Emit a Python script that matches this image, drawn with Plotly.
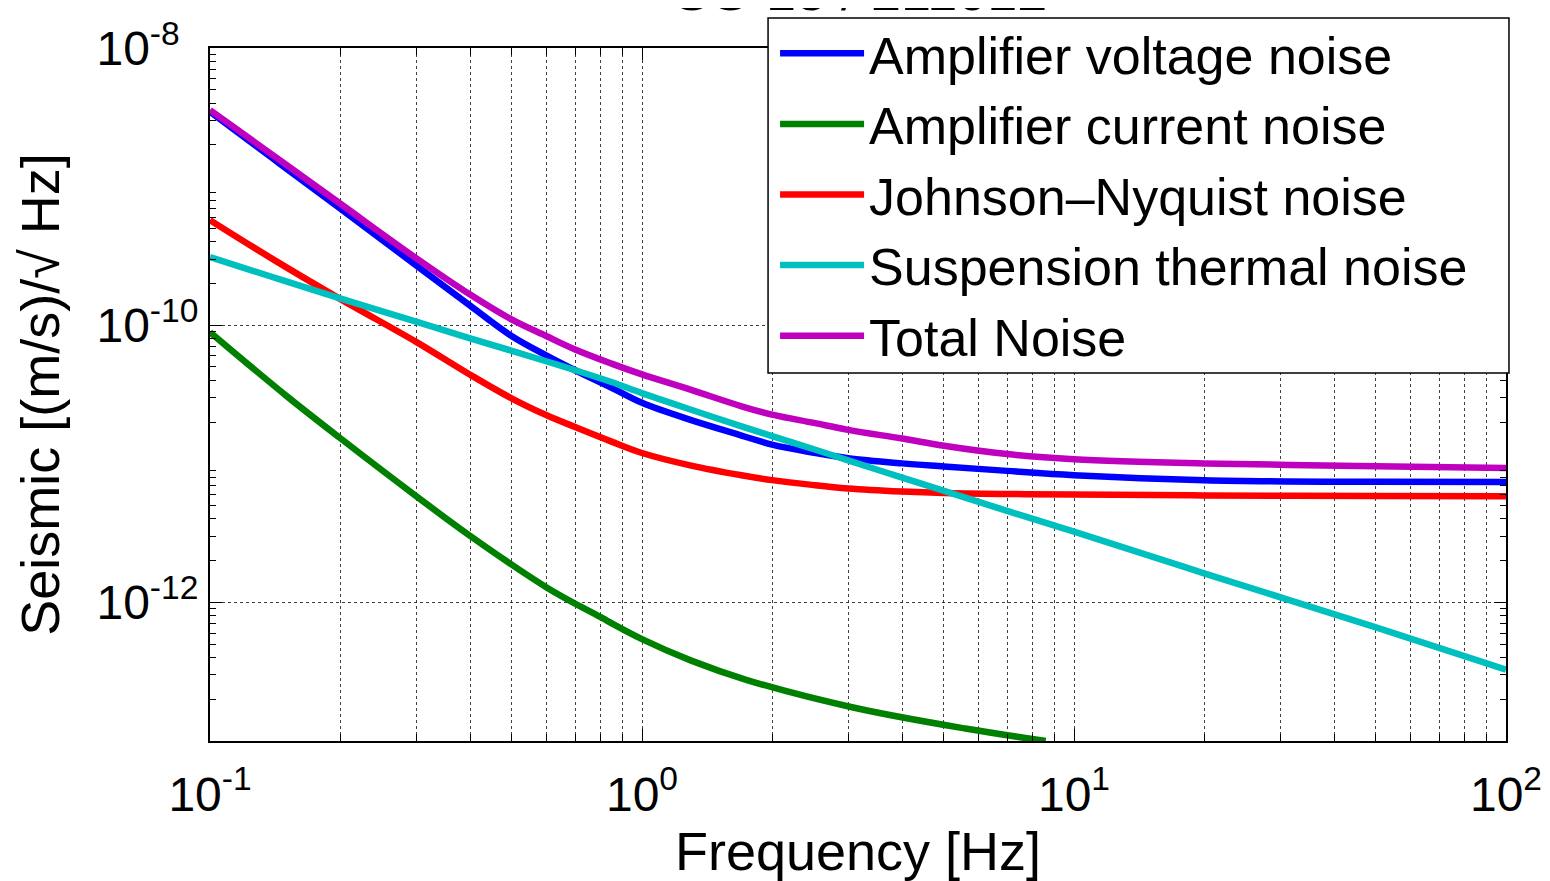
import plotly.graph_objects as go

# ---- data (as log10 of the amplitude spectral density) ----
freq = [0.1, 0.14, 0.2, 0.3, 0.4, 0.5, 0.6, 0.7, 0.85, 1.0, 1.3, 1.7, 2.0, 2.5, 3.0,
        4.0, 5.0, 7.0, 10.0, 20.0, 50.0, 100.0]

amp_voltage_log10 = [-8.46, -8.799, -9.158, -9.568, -9.859, -10.08, -10.218, -10.325, -10.451,
                     -10.56, -10.685, -10.796, -10.862, -10.92, -10.96, -10.997, -11.019,
                     -11.051, -11.082, -11.118, -11.13, -11.132]
johnson_log10 = [-9.242, -9.525, -9.81, -10.12, -10.357, -10.529, -10.648, -10.735, -10.84,
                 -10.922, -11.013, -11.083, -11.118, -11.154, -11.178, -11.2, -11.211,
                 -11.218, -11.222, -11.228, -11.233, -11.235]
suspension_log10 = [-9.509, -9.654, -9.807, -9.975, -10.095, -10.185, -10.26, -10.325, -10.41,
                    -10.49, -10.61, -10.73, -10.80, -10.895, -10.975, -11.10, -11.195,
                    -11.34, -11.49, -11.79, -12.18, -12.485]
total_log10 = [-8.448, -8.775, -9.122, -9.516, -9.779, -9.96, -10.078, -10.175, -10.277,
               -10.355, -10.467, -10.585, -10.645, -10.705, -10.755, -10.818, -10.87,
               -10.93, -10.967, -10.997, -11.017, -11.03]

freq_current = [0.1, 0.15, 0.2, 0.3, 0.4, 0.6, 0.8, 1.0, 1.3, 1.75, 3.1, 5.6, 8.6]
amp_current_log10 = [-10.05, -10.508, -10.814, -11.233, -11.52, -11.89, -12.105, -12.265,
                     -12.42, -12.56, -12.76, -12.91, -13.0]

series_names = ["Amplifier voltage noise", "Amplifier current noise", "Johnson\u2013Nyquist noise",
                "Suspension thermal noise", "Total Noise"]
series_colors = ["#0000FF", "#008000", "#FF0000", "#00BFBF", "#BF00BF"]

x_tickvals = [0.1, 1, 10, 100]
x_ticktext = ["10<sup>-1</sup>", "10<sup>0</sup>", "10<sup>1</sup>", "10<sup>2</sup>"]
y_tickvals = [1e-12, 1e-10, 1e-8]
y_ticktext = ["10<sup>-12</sup>", "10<sup>-10</sup>", "10<sup>-8\u2007</sup>"]

title_text = "GS-13 / 211012"
x_title = "Frequency [Hz]"
y_title = "Seismic [(m/s)/\u221a Hz]"

# ---- figure ----
FONT = "Liberation Sans, Arial, Helvetica, sans-serif"
fig = go.Figure()


def asd(log_vals):
    return [10 ** v for v in log_vals]


series = [
    (freq, asd(amp_voltage_log10)),
    (freq_current, asd(amp_current_log10)),
    (freq, asd(johnson_log10)),
    (freq, asd(suspension_log10)),
    (freq, asd(total_log10)),
]
for (xs, ys), name, color in zip(series, series_names, series_colors):
    fig.add_trace(go.Scatter(x=xs, y=ys, mode="lines", name=name,
                             line=dict(color=color, width=6.5, shape="spline", smoothing=1.0)))

minor_x = [m * 10 ** e for e in range(-1, 2) for m in range(2, 10)]
minor_y = [m * 10.0 ** e for e in range(-13, -8) for m in range(2, 10)]

grid_col = "rgba(30,30,30,0.85)"
fig.update_xaxes(type="log", range=[-1, 2],
                 tickvals=x_tickvals, ticktext=x_ticktext,
                 tickfont=dict(family=FONT, size=48, color="black"),
                 ticks="inside", ticklen=12, tickcolor="black", ticklabelstandoff=10,
                 showgrid=True, gridcolor=grid_col, griddash="dot", gridwidth=1,
                 minor=dict(tickvals=minor_x, ticks="inside", ticklen=7, tickcolor="black",
                            showgrid=True, gridcolor=grid_col, griddash="dot", gridwidth=1),
                 showline=True, linecolor="black", linewidth=2, mirror="allticks",
                 title=dict(text=x_title, font=dict(family=FONT, size=54, color="black"), standoff=12),
                 zeroline=False)
fig.update_yaxes(type="log", range=[-13, -8],
                 tickvals=y_tickvals, ticktext=y_ticktext,
                 tickfont=dict(family=FONT, size=48, color="black"),
                 ticks="inside", ticklen=12, tickcolor="black",
                 showgrid=True, gridcolor=grid_col, griddash="dot", gridwidth=1,
                 minor=dict(tickvals=minor_y, ticks="inside", ticklen=6, tickcolor="black",
                            showgrid=False),
                 showline=True, linecolor="black", linewidth=2, mirror="allticks",
                 title=dict(text=y_title, font=dict(family=FONT, size=54, color="black"), standoff=20),
                 zeroline=False)

fig.update_layout(
    width=1542, height=873,
    margin=dict(l=202, r=44, t=40, b=140, autoexpand=False),
    paper_bgcolor="white", plot_bgcolor="white",
    font=dict(family=FONT, color="black"),
    showlegend=True,
    legend=dict(x=0.436, y=1.0505, xanchor="left", yanchor="top",
                bgcolor="rgba(0,0,0,0)", borderwidth=0,
                font=dict(family=FONT, size=52, color="black"),
                itemwidth=84, tracegroupgap=0),
    shapes=[dict(type="rect", xref="paper", yref="paper", x0=0.4306, x1=1.0023, y0=0.531, y1=1.0433,
                 fillcolor="white", line=dict(color="black", width=1.5), layer="above")],
    annotations=[dict(text=title_text, xref="paper", yref="paper", x=0.5, y=1.036,
                      xanchor="center", yanchor="bottom", showarrow=False,
                      font=dict(family=FONT, size=54, color="black"))],
)

fig.write_html("out.html")
